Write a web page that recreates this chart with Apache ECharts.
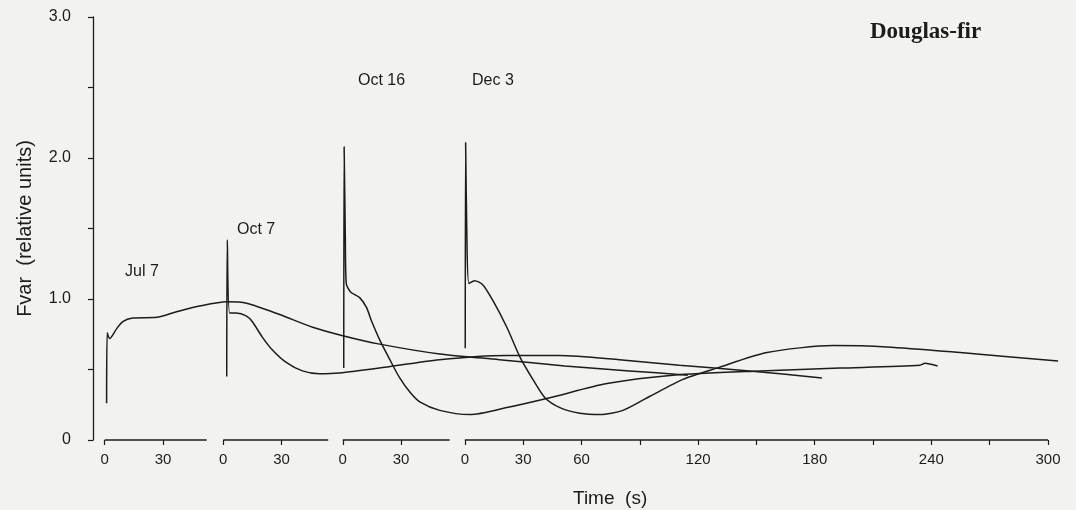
<!DOCTYPE html>
<html>
<head>
<meta charset="utf-8">
<script src="https://cdn.jsdelivr.net/npm/echarts@6/dist/echarts.min.js"></script>
<style>
html,body{margin:0;padding:0;background:#f2f2ee;}
#chart{width:1076px;height:510px;}
</style>
</head>
<body>
<div id="chart"></div>
<script>
// ---- data (time in s, local to each run; Fvar in relative units) ----
const seriesNames = ['Jul 7', 'Oct 7', 'Oct 16', 'Dec 3'];
// offset of each run's time origin on the shared (segmented) time axis, s
const segOffsets = [0, 61, 122.5, 185.3];
// length of each axis segment, s
const segEnds = [52.5, 54, 55, 300];
const segTicks = [[0, 30], [0, 30], [0, 30], [0, 30, 60, 90, 120, 150, 180, 210, 240, 270, 300]];
const segLabels = [[0, 30], [0, 30], [0, 30], [0, 30, 60, 120, 180, 240, 300]];
const yTicks = [0, 0.5, 1, 1.5, 2, 2.5, 3];
const yLabels = [0, 1, 2, 3];

const jul7T = [1.0, 1.3, 2.6, 6.2, 9.3, 14.4, 26.8, 37, 48.9, 62.8, 73, 90, 107, 122.5, 141.5, 172.4, 203, 236.7, 270, 300];
const jul7V = [0.26, 0.76, 0.72, 0.79, 0.84, 0.865, 0.87, 0.91, 0.95, 0.98, 0.97, 0.89, 0.80, 0.74, 0.68, 0.61, 0.57, 0.525, 0.49, 0.46];

const oct7T = [1.8, 2.1, 3.3, 6.7, 11.8, 14.9, 20.1, 25.2, 32.4, 40.7, 49.4, 59.7, 80.3, 111.2, 145.7, 173, 203.8, 234.7, 270.7, 308];
const oct7V = [0.45, 1.42, 0.90, 0.90, 0.88, 0.84, 0.73, 0.64, 0.55, 0.49, 0.47, 0.475, 0.51, 0.57, 0.60, 0.60, 0.57, 0.53, 0.49, 0.44];

const oct16T = [0.5, 0.7, 1.3, 1.8, 4.0, 8.7, 12.2, 14.9, 19.0, 24.2, 29.3, 34.5, 39.6, 49.9, 65.4, 84.4, 106.5, 135.9, 169.8, 214.6, 255.8, 297, 299.5, 306];
const oct16V = [0.51, 2.08, 1.45, 1.11, 1.05, 1.01, 0.94, 0.84, 0.71, 0.57, 0.44, 0.34, 0.27, 0.21, 0.18, 0.23, 0.30, 0.40, 0.46, 0.49, 0.51, 0.53, 0.545, 0.525];

const dec3T = [0.2, 0.4, 1.0, 2.1, 5.1, 9.3, 14.4, 21.6, 28.3, 35.0, 41.2, 48.9, 59.2, 69.5, 81.3, 95.2, 112.2, 129.7, 155.4, 189.4, 217.2, 254.8, 305.2];
const dec3V = [0.65, 2.11, 1.49, 1.11, 1.13, 1.10, 0.99, 0.80, 0.59, 0.43, 0.30, 0.23, 0.19, 0.18, 0.21, 0.31, 0.43, 0.51, 0.62, 0.67, 0.66, 0.62, 0.56];

const runsT = [jul7T, oct7T, oct16T, dec3T];
const runsV = [jul7V, oct7V, oct16V, dec3V];

// ---- build ----
const INK = '#1c1c1c';
const FONT = '"Liberation Sans", Arial, sans-serif';
const key = v => v.toFixed(2);
const tickVals = [], labelVals = [], labelMap = {};
segTicks.forEach((arr, i) => arr.forEach(t => tickVals.push(segOffsets[i] + t)));
segLabels.forEach((arr, i) => arr.forEach(t => {
  const g = segOffsets[i] + t; labelVals.push(g); labelMap[key(g)] = String(t);
}));

const series = [];
seriesNames.forEach((name, i) => {
  series.push({
    name: name, type: 'line', smooth: 0.25, symbol: 'none', clip: false,
    lineStyle: {color: INK, width: 1.5},
    data: runsT[i].map((t, j) => [segOffsets[i] + t, runsV[i][j]])
  });
});
// segmented time-axis baseline
segOffsets.forEach((off, i) => {
  series.push({
    type: 'line', symbol: 'none', silent: true, clip: false, z: 1,
    lineStyle: {color: INK, width: 1.3},
    data: [[off, 0], [off + segEnds[i], 0]]
  });
});

const chart = echarts.init(document.getElementById('chart'), null, {renderer: 'canvas'});
chart.setOption({
  backgroundColor: '#f2f2ee',
  animation: false,
  grid: {left: 93, right: 15, top: 17, bottom: 70, containLabel: false, outerBoundsMode: 'none'},
  xAxis: {
    type: 'value', min: -6, max: 492,
    axisLine: {show: false, onZero: false},
    splitLine: {show: false},
    axisTick: {show: true, customValues: tickVals, length: 5, lineStyle: {color: INK, width: 1.2}},
    axisLabel: {
      customValues: labelVals, margin: 12, color: INK, fontFamily: FONT, fontSize: 15,
      formatter: v => labelMap[key(v)] || ''
    }
  },
  yAxis: {
    type: 'value', min: 0, max: 3,
    name: 'Fvar  (relative units)', nameLocation: 'middle', nameGap: 58, nameRotate: 90,
    nameTextStyle: {color: INK, fontFamily: FONT, fontSize: 20},
    axisLine: {show: true, onZero: false, lineStyle: {color: INK, width: 1.3}},
    splitLine: {show: false},
    axisTick: {show: true, customValues: yTicks, length: 5, lineStyle: {color: INK, width: 1.2}},
    axisLabel: {
      customValues: yLabels, margin: 22, color: INK, fontFamily: FONT, fontSize: 16,
      formatter: v => v === 0 ? '0' : v.toFixed(1)
    }
  },
  graphic: [
    {type: 'text', left: 573, top: 489, style: {text: 'Time  (s)', font: '19px ' + FONT, fill: INK}},
    {type: 'text', left: 870, top: 21, style: {text: 'Douglas-fir', font: 'bold 23px "Liberation Serif", "DejaVu Serif", serif', fill: INK}},
    {type: 'text', left: 125, top: 264, style: {text: seriesNames[0], font: '16px ' + FONT, fill: INK}},
    {type: 'text', left: 237, top: 222, style: {text: seriesNames[1], font: '16px ' + FONT, fill: INK}},
    {type: 'text', left: 358, top: 73, style: {text: seriesNames[2], font: '16px ' + FONT, fill: INK}},
    {type: 'text', left: 472, top: 73, style: {text: seriesNames[3], font: '16px ' + FONT, fill: INK}}
  ],
  series: series
});
</script>
</body>
</html>
